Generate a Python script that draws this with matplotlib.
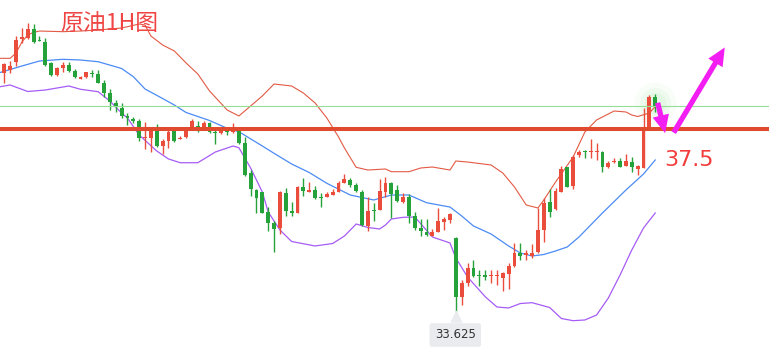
import matplotlib.pyplot as plt
import numpy as np

plt.rcParams['font.family'] = ['Noto Sans CJK SC', 'DejaVu Sans']

# hourly candles (red = up, green = down)
opens = [38.690, 38.760, 38.936, 39.412, 39.433, 39.625, 39.397, 39.361, 38.915, 38.654,
         38.796, 38.866, 38.745, 38.575, 38.605, 38.696, 38.675, 38.477, 38.278, 38.065,
         37.946, 37.789, 37.719, 37.676, 37.315, 37.322, 37.555, 37.152, 37.258, 37.464,
         37.288, 37.330, 37.521, 37.570, 37.506, 37.640, 37.449, 37.428, 37.470, 37.443,
         37.464, 37.203, 36.565, 36.210, 36.162, 35.749, 35.516, 35.393, 36.140, 35.764,
         35.728, 36.281, 36.174, 36.210, 36.062, 36.068, 36.111, 36.174, 36.366, 36.423,
         36.317, 36.174, 35.446, 35.786, 35.786, 36.174, 36.353, 36.210, 35.962, 36.068,
         35.658, 35.397, 35.325, 35.233, 35.325, 35.537, 35.573, 35.184, 33.944, 34.241,
         34.547, 34.405, 34.405, 34.383, 34.383, 34.347, 34.426, 34.596, 34.866, 34.830,
         34.810, 34.900, 35.361, 35.962, 35.800, 36.174, 36.693, 36.295, 36.954, 37.033,
         37.018, 37.018, 37.024, 36.706, 36.799, 36.827, 36.727, 36.812, 36.657, 36.684,
         37.500, 38.186]
highs = [38.915, 38.951, 39.482, 39.646, 39.765, 39.737, 39.482, 39.433, 38.936, 38.830,
         38.936, 38.936, 38.781, 38.632, 38.724, 38.760, 38.760, 38.547, 38.350, 38.122,
         38.052, 37.840, 37.755, 37.719, 37.655, 37.543, 37.613, 37.288, 37.500, 37.500,
         37.358, 37.521, 37.713, 37.683, 37.683, 37.661, 37.521, 37.521, 37.521, 37.640,
         37.500, 37.343, 36.635, 36.225, 36.174, 35.856, 35.558, 36.196, 36.247, 35.962,
         36.295, 36.459, 36.374, 36.295, 36.140, 36.174, 36.225, 36.408, 36.550, 36.459,
         36.353, 36.210, 36.068, 35.941, 36.444, 36.480, 36.374, 36.317, 36.147, 36.125,
         35.749, 35.588, 35.588, 35.376, 35.822, 35.630, 35.728, 35.206, 34.298, 34.653,
         34.723, 34.511, 34.511, 34.511, 34.511, 34.475, 34.666, 35.078, 35.078, 34.936,
         35.063, 35.822, 36.034, 36.225, 36.247, 36.720, 36.706, 36.954, 37.060, 37.060,
         37.288, 37.203, 37.045, 36.833, 36.884, 36.884, 36.969, 36.918, 36.742, 37.946,
         38.229, 38.256]
lows = [38.477, 38.696, 38.851, 39.327, 39.412, 39.340, 39.382, 38.845, 38.632, 38.632,
        38.724, 38.724, 38.584, 38.575, 38.596, 38.605, 38.477, 38.193, 37.910, 37.874,
        37.734, 37.591, 37.640, 37.258, 37.081, 37.024, 37.130, 36.969, 37.109, 37.237,
        37.288, 37.322, 37.506, 37.449, 37.500, 37.415, 37.181, 37.407, 37.385, 37.428,
        37.188, 36.508, 36.083, 35.728, 35.715, 35.346, 34.900, 35.276, 35.658, 35.658,
        35.715, 36.089, 36.174, 36.026, 35.856, 36.055, 36.111, 36.174, 36.353, 36.281,
        36.174, 35.446, 35.346, 35.558, 35.786, 36.068, 35.609, 35.962, 35.928, 35.516,
        35.361, 35.233, 35.233, 35.233, 35.312, 35.361, 35.503, 33.625, 33.767, 34.171,
        34.368, 34.171, 34.298, 34.241, 34.192, 34.071, 34.101, 34.581, 34.723, 34.723,
        34.760, 34.866, 35.112, 35.643, 35.786, 36.174, 36.281, 36.225, 36.918, 36.897,
        36.884, 36.848, 36.599, 36.671, 36.778, 36.693, 36.720, 36.599, 36.529, 36.671,
        37.485, 37.874]
closes = [38.887, 38.845, 39.397, 39.467, 39.625, 39.361, 39.382, 38.866, 38.654, 38.796,
          38.866, 38.739, 38.605, 38.618, 38.711, 38.675, 38.490, 38.265, 38.086, 37.967,
          37.783, 37.746, 37.683, 37.322, 37.343, 37.470, 37.145, 37.252, 37.443, 37.258,
          37.322, 37.464, 37.676, 37.521, 37.640, 37.449, 37.428, 37.485, 37.449, 37.485,
          37.203, 36.529, 36.225, 36.051, 35.728, 35.516, 35.376, 36.174, 35.771, 35.728,
          36.281, 36.196, 36.210, 36.047, 36.047, 36.132, 36.174, 36.366, 36.444, 36.317,
          36.196, 35.467, 35.771, 35.764, 36.189, 36.366, 36.125, 35.983, 36.068, 35.658,
          35.397, 35.346, 35.254, 35.325, 35.552, 35.588, 35.694, 33.944, 34.241, 34.547,
          34.390, 34.383, 34.368, 34.405, 34.405, 34.453, 34.596, 34.866, 34.808, 34.878,
          34.878, 35.361, 35.928, 35.749, 36.196, 36.657, 36.281, 36.918, 37.024, 37.018,
          37.033, 37.033, 36.693, 36.790, 36.833, 36.706, 36.833, 36.693, 36.720, 37.500,
          38.176, 37.990]

# bollinger bands, sampled at candle positions
upper_x = [-1, 1, 2, 3, 4, 5, 6, 10, 13, 16, 20, 23, 24, 25, 27, 29, 31, 33, 35, 38,
           40, 42, 44, 46, 49, 51, 53, 55, 57, 58, 60, 62, 65, 66, 69, 71, 73, 76, 77, 79,
           83, 85, 87, 89, 91, 92, 94, 97, 99, 101, 104, 106, 107, 108, 110, 111]
upper_y = [39.008, 39.008, 39.121, 39.355, 39.503, 39.561, 39.588, 39.574, 39.588, 39.610,
           39.652, 39.737, 39.716, 39.482, 39.291, 39.164, 38.909, 38.675, 38.314, 37.910,
           37.783, 37.995, 38.208, 38.462, 38.420, 38.271, 38.059, 37.740, 37.336, 37.103,
           36.693, 36.635, 36.657, 36.599, 36.599, 36.678, 36.699, 36.635, 36.827, 36.805,
           36.742, 36.572, 36.274, 35.892, 35.828, 35.998, 36.380, 36.912, 37.443, 37.698,
           37.889, 37.868, 37.804, 37.772, 37.846, 37.980]
mid_x = [-1, 3, 6, 10, 13, 16, 20, 22, 24, 27, 29, 31, 35, 38, 40, 44, 46, 49, 52, 55,
         59, 63, 66, 69, 72, 75, 76, 78, 80, 83, 86, 88, 90, 92, 94, 96, 98, 99, 102, 106,
         109, 111]
mid_y = [38.696, 38.845, 38.951, 38.987, 38.972, 38.936, 38.792, 38.618, 38.356, 38.154,
         38.016, 37.857, 37.687, 37.521, 37.449, 37.145, 36.990, 36.763, 36.582, 36.353,
         36.104, 35.998, 36.104, 36.104, 35.941, 35.871, 35.849, 35.658, 35.446, 35.276,
         35.021, 34.872, 34.808, 34.840, 34.915, 35.000, 35.212, 35.340, 35.722, 36.210,
         36.550, 36.848]
lower_x = [-1, 1, 4, 7, 11, 13, 16, 18, 20, 21, 23, 26, 28, 30, 33, 36, 39, 40, 42, 44,
           45, 47, 49, 53, 56, 58, 60, 62, 64, 65, 66, 68, 70, 73, 76, 77, 79, 82, 84, 86,
           88, 90, 93, 95, 97, 99, 101, 103, 105, 107, 109, 111]
lower_y = [38.399, 38.441, 38.303, 38.335, 38.420, 38.350, 38.299, 38.101, 37.846, 37.740,
           37.379, 37.039, 36.870, 36.790, 36.790, 37.018, 37.145, 37.109, 36.678, 36.168,
           35.743, 35.361, 35.116, 35.021, 35.074, 35.233, 35.488, 35.414, 35.382, 35.467,
           35.594, 35.630, 35.637, 35.212, 35.085, 34.766, 34.362, 33.944, 33.725, 33.704,
           33.799, 33.816, 33.714, 33.480, 33.434, 33.449, 33.555, 33.916, 34.404, 34.936,
           35.403, 35.722]

key_level = 37.5
low_label = '33.625'
low_idx = 77

up_col = '#eb4d3d'
down_col = '#25a23a'

fig = plt.figure(figsize=(7.69, 3.55), dpi=100)
ax = fig.add_axes([0, 0, 1, 1])
ax.set_xlim(-0.733, 130.4)
ax.set_ylim(32.705, 40.247)
ax.axis('off')

# bands
ax.plot(upper_x, upper_y, color='#e25a44', lw=0.8, zorder=2)
ax.plot(mid_x, mid_y, color='#4b8bf5', lw=0.9, zorder=2)
ax.plot(lower_x, lower_y, color='#a65cf6', lw=0.9, zorder=2)

# candles
x = np.arange(len(opens))
o = np.array(opens)
c = np.array(closes)
colors = [up_col if cc >= oo else down_col for oo, cc in zip(o, c)]
ax.vlines(x, lows, highs, colors=colors, lw=1.0, zorder=3)
bottom = np.minimum(o, c)
height = np.maximum(np.abs(c - o), 0.022)
ax.bar(x, height, bottom=bottom, width=0.66, color=colors, zorder=4)

# glow on the last candle
for s, a in [(900, 0.05), (500, 0.07), (250, 0.09)]:
    ax.scatter([x[-1]], [38.05], s=s, color='#7fe07f', alpha=a, lw=0, zorder=1)

# levels
ax.axhline(closes[-1], color='#95de95', lw=0.8, zorder=5)
ax.axhline(key_level, color='#e04b2f', lw=2.9, zorder=5)

# expected path arrows
arrow_style = 'simple,head_length=1.3,head_width=1.2,tail_width=0.38'
ax.annotate('', xy=(112.8, 37.36), xytext=(111.3, 38.12),
            arrowprops=dict(arrowstyle=arrow_style, color='#f21ef2', lw=0,
                            mutation_scale=10), zorder=6)
ax.annotate('', xy=(123.1, 39.29), xytext=(113.9, 37.38),
            arrowprops=dict(arrowstyle=arrow_style, color='#f21ef2', lw=0,
                            mutation_scale=10), zorder=6)

ax.text(116.8, 36.85, '37.5', color='#f23c3c', fontsize=16,
        family='DejaVu Sans', ha='center', va='center', zorder=7)
ax.text(17.9, 39.75, '原油1H图', color='#f04545', fontsize=16.5,
        fontweight='medium', ha='center', va='center', zorder=7)

# low price tag
ax.scatter([low_idx], [33.53], marker='^', s=80, color='#e9ebef', lw=0, zorder=6)
ax.text(low_idx - 0.1, 33.13, low_label, color='#333333', fontsize=8.5,
        family='DejaVu Sans', ha='center', va='center', zorder=7,
        bbox=dict(boxstyle='round,pad=0.45,rounding_size=0.2',
                  fc='#e9ebef', ec='none'))

fig.savefig('out.png', dpi=100)
